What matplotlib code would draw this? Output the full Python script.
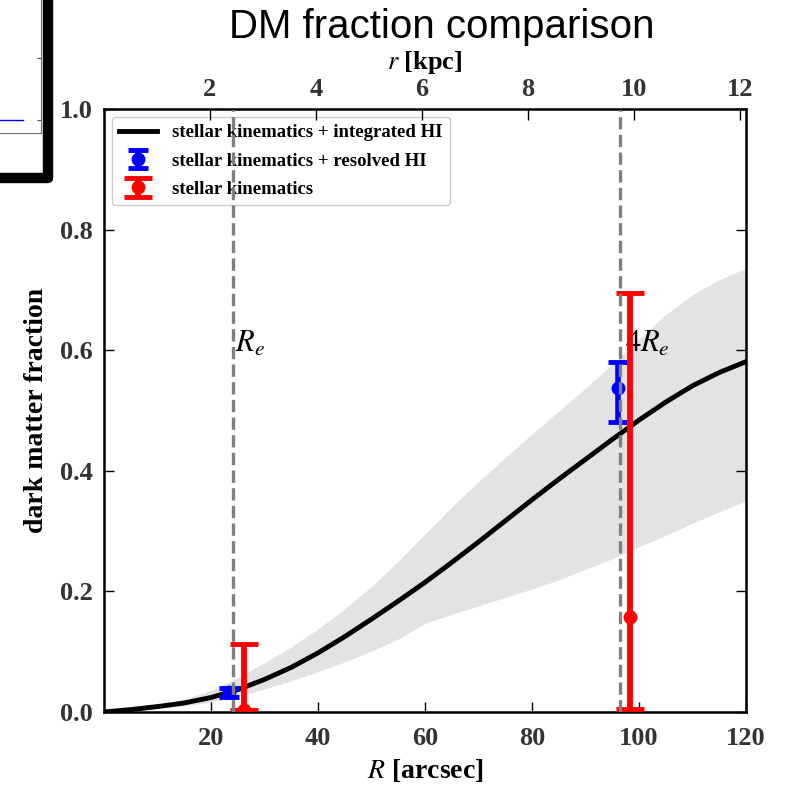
import numpy as np
import matplotlib
matplotlib.use("Agg")
import matplotlib.pyplot as plt
from matplotlib.patches import Rectangle

plt.rcParams['font.family'] = 'serif'
plt.rcParams['font.serif'] = ['Liberation Serif', 'DejaVu Serif']
plt.rcParams['mathtext.fontset'] = 'stix'

# projected radius [arcsec] and dark matter fraction from the integrated HI model
R_MODEL = [0, 5, 10, 15, 20, 25, 30, 35, 40, 45, 50, 55, 60,
           65, 70, 75, 80, 85, 90, 95, 100, 105, 110, 115, 120]
FDM_MODEL = [0.0, 0.004, 0.009, 0.015, 0.024, 0.037, 0.054, 0.074, 0.098,
             0.125, 0.154, 0.184, 0.215, 0.248, 0.282, 0.317, 0.352, 0.386,
             0.419, 0.452, 0.484, 0.514, 0.541, 0.563, 0.581]
FDM_LOW = [0.0, 0.003, 0.006, 0.010, 0.016, 0.026, 0.038, 0.052, 0.067,
           0.083, 0.101, 0.121, 0.147, 0.162, 0.176, 0.190, 0.204, 0.219,
           0.237, 0.254, 0.274, 0.293, 0.313, 0.332, 0.350]
FDM_HIGH = [0.0, 0.006, 0.012, 0.021, 0.036, 0.057, 0.082, 0.108, 0.138,
            0.171, 0.208, 0.250, 0.295, 0.340, 0.382, 0.422, 0.461, 0.499,
            0.537, 0.577, 0.619, 0.659, 0.692, 0.717, 0.736]

# stellar kinematics + resolved HI
R_HI = [23.4, 96.0]
FDM_HI = [0.0325, 0.537]
FDM_HI_ERR_LO = [0.007, 0.056]
FDM_HI_ERR_HI = [0.007, 0.044]

# stellar kinematics only
R_STARS = [26.1, 98.4]
FDM_STARS = [0.003, 0.158]
FDM_STARS_ERR_LO = [0.0, 0.153]
FDM_STARS_ERR_HI = [0.110, 0.537]

R_EFF = 24.1
KPC_PER_ARCSEC = 0.101

X_TICKS = [20, 40, 60, 80, 100, 120]
Y_TICKS = [0.0, 0.2, 0.4, 0.6, 0.8, 1.0]
KPC_TICKS = [2, 4, 6, 8, 10, 12]

# small leftover panel in the upper left corner
INSET_X = [0.0, 1.0]
INSET_Y = [13, 13]
INSET_TICKS = [13, 75]

fig = plt.figure(figsize=(7.93, 7.89), dpi=100)

inset = fig.add_axes([0.0, 1 - 133 / 789, 41 / 793, 133 / 789])
inset.plot(INSET_X, INSET_Y, color='blue', lw=1)
inset.set_xlim(0, 1.78)
inset.set_ylim(0, 133)
for side in ['left', 'top']:
    inset.spines[side].set_visible(False)
for side in ['right', 'bottom']:
    inset.spines[side].set_color('0.45')
    inset.spines[side].set_linewidth(0.8)
inset.yaxis.tick_right()
inset.set_yticks(INSET_TICKS)
inset.set_yticklabels([])
inset.set_xticks([])
inset.tick_params(axis='y', direction='in', length=3, color='0.3')
fig.patches.append(Rectangle((-0.05, 1 - 178 / 789), 47.5 / 793 + 0.05,
                             178 / 789 + 0.05, transform=fig.transFigure,
                             fill=False, edgecolor='black', lw=7.5,
                             joinstyle='round'))

ax = fig.add_axes([104 / 793, 1 - 712 / 789, 642 / 793, 603 / 789])

ax.fill_between(R_MODEL, FDM_LOW, FDM_HIGH, color='#e3e3e3', lw=0, zorder=1)
line, = ax.plot(R_MODEL, FDM_MODEL, color='black', lw=3.5, zorder=3,
                solid_joinstyle='round')

hi = ax.errorbar(R_HI, FDM_HI, yerr=[FDM_HI_ERR_LO, FDM_HI_ERR_HI],
                 fmt='o', color='blue', ms=9, elinewidth=4, capsize=7,
                 capthick=3.5, zorder=4)
stars = ax.errorbar(R_STARS, FDM_STARS,
                    yerr=[FDM_STARS_ERR_LO, FDM_STARS_ERR_HI],
                    fmt='o', color='red', ms=9, elinewidth=4.2, capsize=10,
                    capthick=3.5, zorder=4)

for x in [R_EFF, 4 * R_EFF]:
    ax.axvline(x, color='0.5', ls='--', lw=2.4, zorder=6)

ax.text(R_EFF + 0.3, 0.597, r'$R_e$', fontsize=22, va='baseline')
ax.text(4 * R_EFF + 1.0, 0.597, r'$4R_e$', fontsize=22, va='baseline')

ax.set_xlim(0, 120)
ax.set_ylim(0, 1)
ax.set_xticks(X_TICKS)
ax.set_yticks(Y_TICKS)
ax.set_yticklabels(['%.1f' % v for v in Y_TICKS])
ax.tick_params(direction='in', length=7, width=1, labelsize=19,
               labelcolor='0.2', right=True, top=False)
ax.tick_params(axis='x', pad=11)
ax.tick_params(axis='y', pad=8)
for lab in ax.get_xticklabels() + ax.get_yticklabels():
    lab.set_fontweight('bold')
for sp in ax.spines.values():
    sp.set_linewidth(1.8)

ax.set_xlabel(r'$R$ [arcsec]', fontsize=20, fontweight='bold', labelpad=5)
ax.set_ylabel('dark matter fraction', fontsize=20, fontweight='bold')
ax.yaxis.set_label_coords(-0.085, 0.5)

top = ax.twiny()
top.set_xlim(0, 120 * KPC_PER_ARCSEC)
top.set_xticks(KPC_TICKS)
top.tick_params(direction='in', length=8, width=1, labelsize=19,
                labelcolor='0.2', pad=6)
for lab in top.get_xticklabels():
    lab.set_fontweight('bold')
top.set_xlabel(r'$r$ [kpc]', fontsize=19, fontweight='bold', labelpad=6)

ax.legend([line, hi, stars],
          ['stellar kinematics + integrated HI',
           'stellar kinematics + resolved HI', 'stellar kinematics'],
          loc='upper left', prop={'weight': 'bold', 'size': 13.5},
          borderaxespad=0.4, handlelength=2.0, labelspacing=0.6,
          edgecolor='0.8', framealpha=1)

fig.text(442 / 793, 1 - 38 / 789, 'DM fraction comparison', ha='center',
         va='baseline', fontsize=29, family='Liberation Sans')

fig.savefig('out.png', dpi=100)
